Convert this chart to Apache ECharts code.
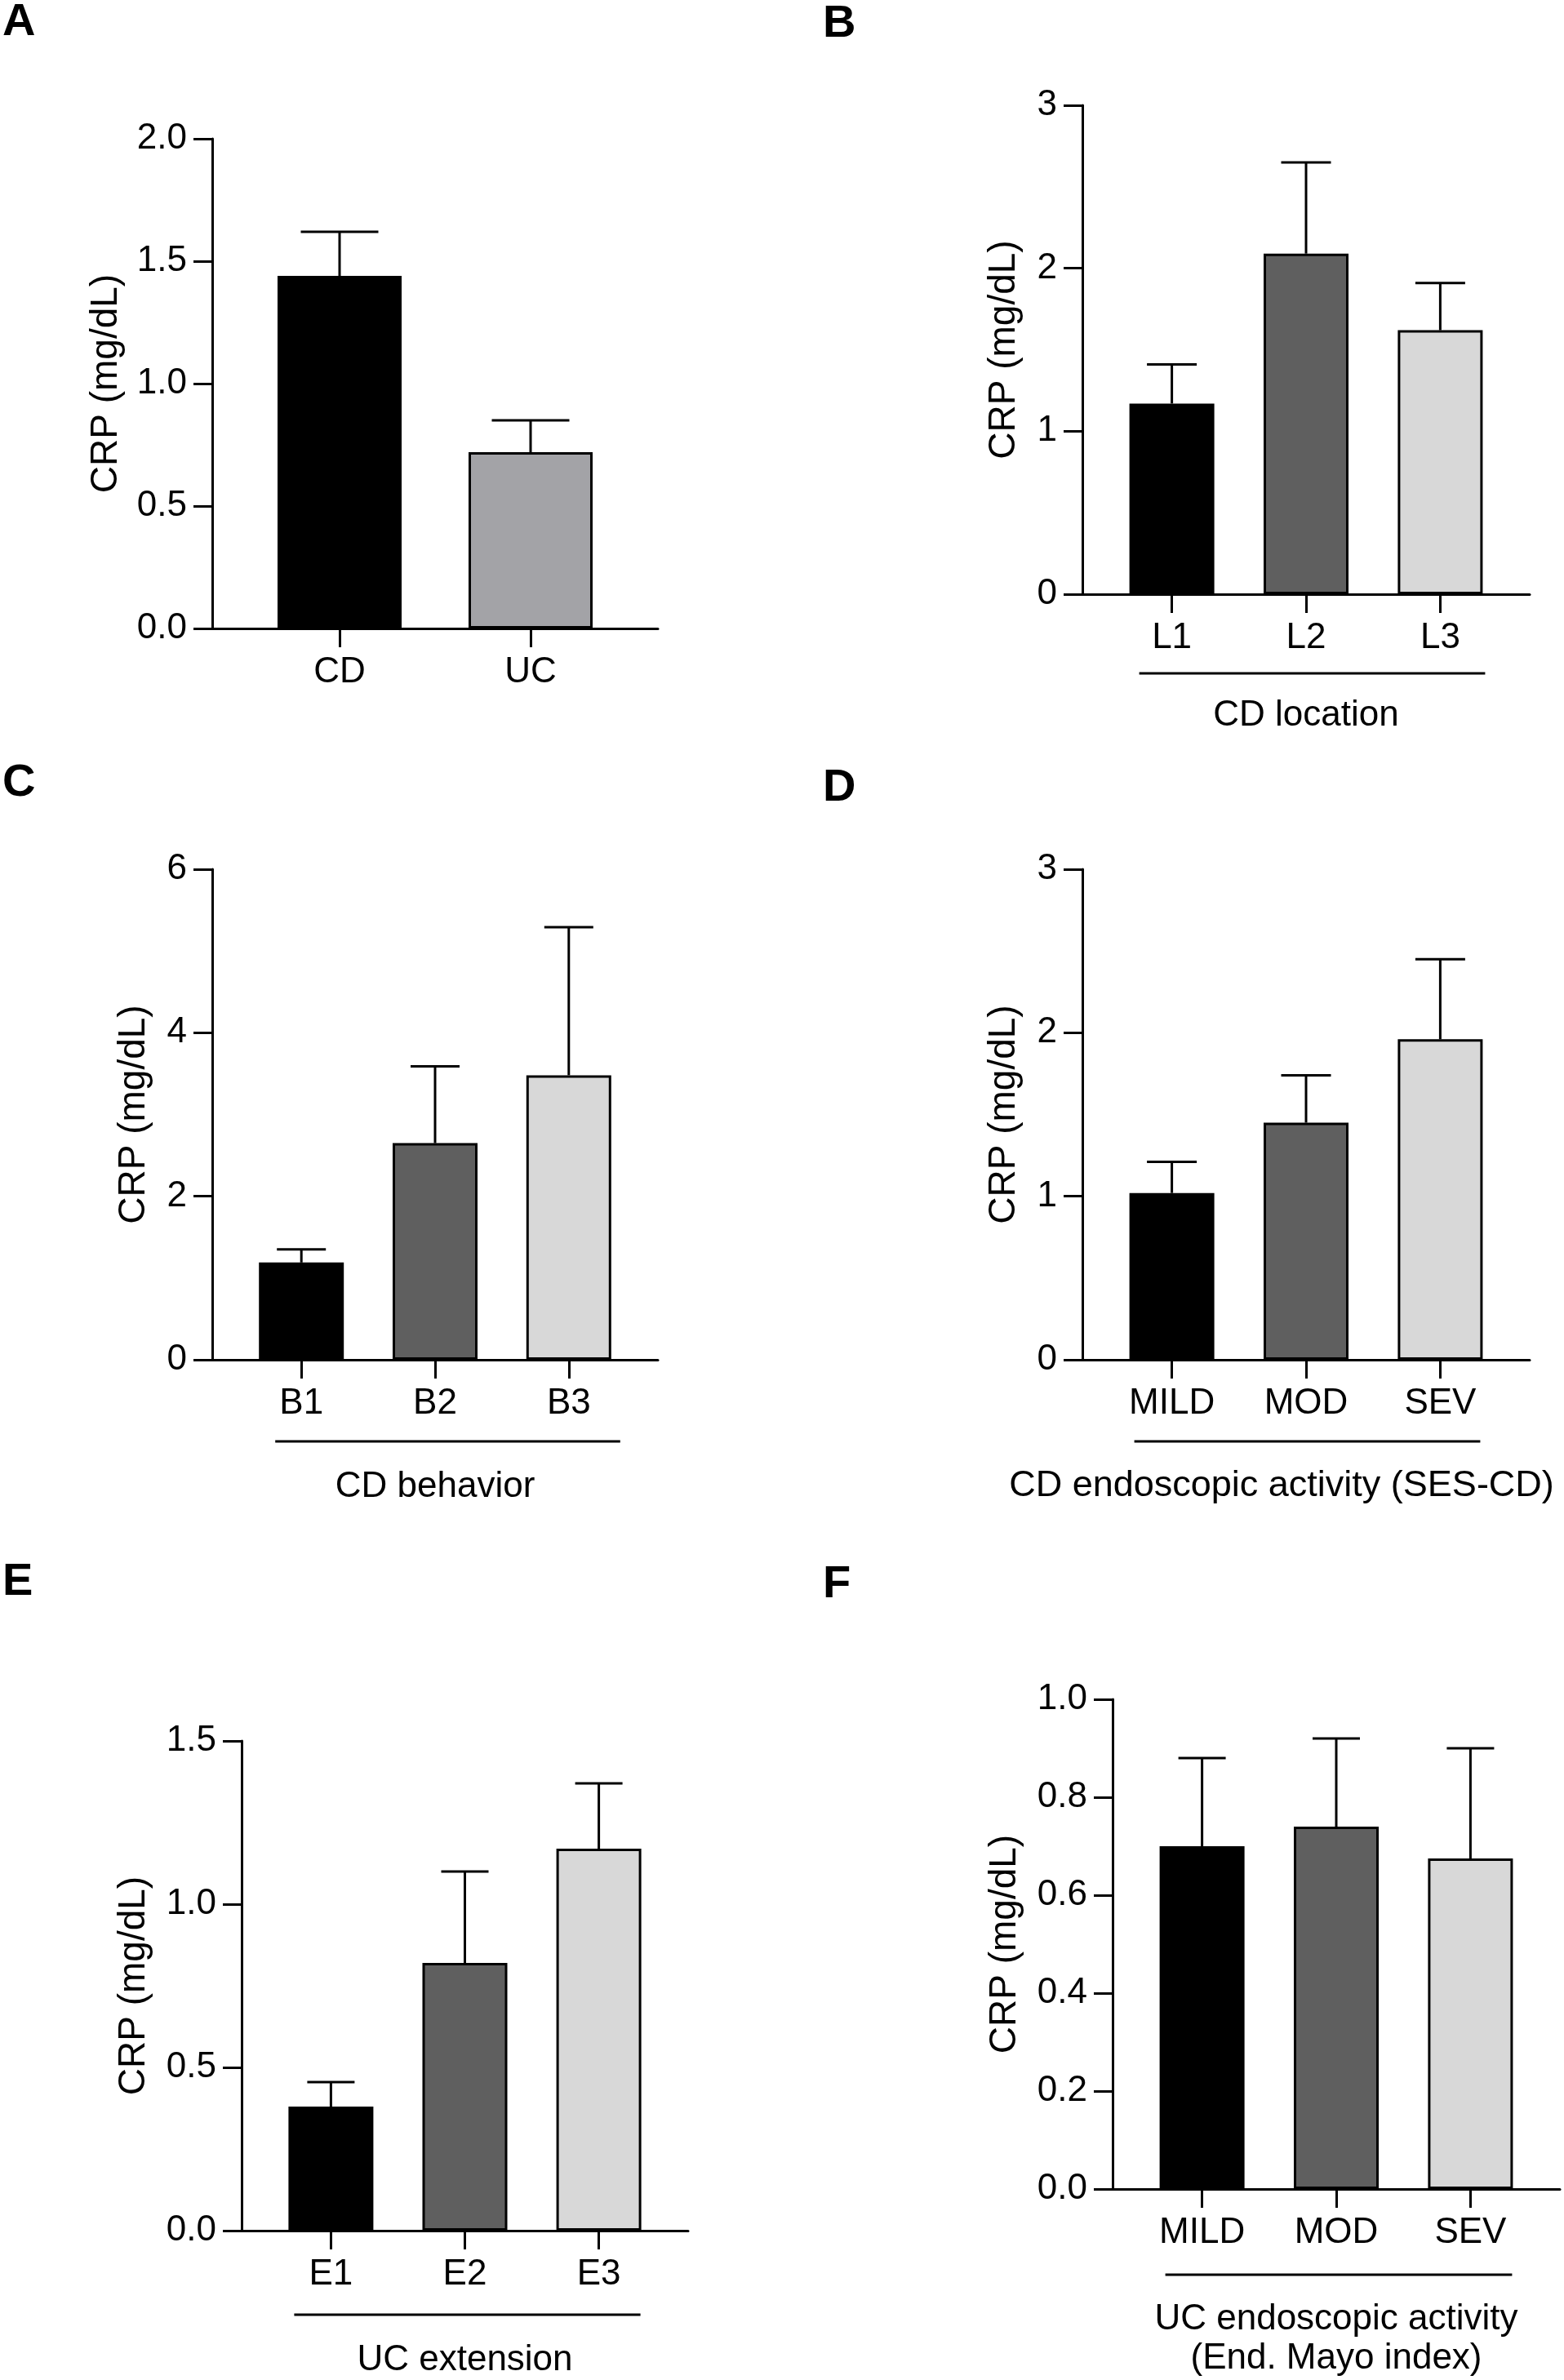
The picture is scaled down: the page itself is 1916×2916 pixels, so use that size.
<!DOCTYPE html>
<html>
<head>
<meta charset="utf-8">
<script src="https://cdn.jsdelivr.net/npm/echarts@6/dist/echarts.min.js"></script>
<style>
  html, body { margin: 0; padding: 0; background: #fff; }
  #main { width: 1916px; height: 2916px; }
</style>
</head>
<body>
<div id="main"></div>
<script>
// data (mean and SEM, CRP mg/dL)
var aCats = ['CD', 'UC'];
var aMean = [1.44, 0.72];
var aSem  = [0.18, 0.13];

var bCats = ['L1', 'L2', 'L3'];
var bMean = [1.17, 2.09, 1.62];
var bSem  = [0.24, 0.56, 0.29];

var cCats = ['B1', 'B2', 'B3'];
var cMean = [1.19, 2.65, 3.48];
var cSem  = [0.16, 0.94, 1.81];

var dCats = ['MILD', 'MOD', 'SEV'];
var dMean = [1.02, 1.45, 1.96];
var dSem  = [0.19, 0.29, 0.49];

var eCats = ['E1', 'E2', 'E3'];
var eMean = [0.38, 0.82, 1.17];
var eSem  = [0.075, 0.28, 0.20];

var fCats = ['MILD', 'MOD', 'SEV'];
var fMean = [0.70, 0.74, 0.675];
var fSem  = [0.18, 0.18, 0.225];

var yName = 'CRP (mg/dL)';
var font = '"Liberation Sans", Arial, Helvetica, sans-serif';
var grey3 = ['#000000', '#5f5f5f', '#d8d8d8'];

var panels = [
  {letter:'A', cats:aCats, mean:aMean, sem:aSem, fills:['#000000', '#a3a3a7'],
   grid:{left:260, top:170, width:546, height:600}, yMax:2, yStep:0.5, dec:1,
   bar:152, cap:95, yGap:107, title:'', tGap:0, letterPos:[3, 0]},
  {letter:'B', cats:bCats, mean:bMean, sem:bSem, fills:grey3,
   grid:{left:1326, top:129, width:548, height:599}, yMax:3, yStep:1, dec:0,
   bar:104, cap:61, yGap:73, title:'CD location', tGap:125, br:[-40, 55, 97], letterPos:[1008, 2]},
  {letter:'C', cats:cCats, mean:cMean, sem:cSem, fills:grey3,
   grid:{left:260, top:1065, width:546, height:601}, yMax:6, yStep:2, dec:0,
   bar:104, cap:60, yGap:73, title:'CD behavior', tGap:132, br:[-32, 63, 100], letterPos:[3, 932]},
  {letter:'D', cats:dCats, mean:dMean, sem:dSem, fills:grey3,
   grid:{left:1326, top:1065, width:548, height:601}, yMax:3, yStep:1, dec:0,
   bar:104, cap:61, yGap:73, title:'CD endoscopic activity (SES-CD)', tGap:131, tPad:[0, 60, 0, 0], tSize:45,
   br:[-46, 49, 100], letterPos:[1008, 938]},
  {letter:'E', cats:eCats, mean:eMean, sem:eSem, fills:grey3,
   grid:{left:296, top:2133, width:547, height:600}, yMax:1.5, yStep:0.5, dec:1,
   bar:104, cap:58, yGap:109, title:'UC extension', tGap:135, br:[-45, 51, 103], letterPos:[3, 1911]},
  {letter:'F', cats:fCats, mean:fMean, sem:fSem, fills:grey3,
   grid:{left:1363, top:2082, width:548, height:600}, yMax:1, yStep:0.2, dec:1,
   bar:104, cap:58, yGap:109, title:'UC endoscopic activity\n(End. Mayo index)', tGap:136, br:[-45, 51, 105],
   letterPos:[1008, 1914]}
];

var chart = echarts.init(document.getElementById('main'), null, {renderer: 'canvas'});

var grids = [], xAxes = [], yAxes = [], series = [], titles = [];

panels.forEach(function(p, k) {
  var n = p.cats.length;
  var idx = [];
  for (var i = 0; i < n; i++) idx.push(i);

  // keep the plot box fixed even if a label runs near the page edge
  grids.push({
    left: p.grid.left, top: p.grid.top, width: p.grid.width, height: p.grid.height,
    containLabel: false, outerBoundsMode: 'none'
  });
  titles.push({
    text: p.letter, left: p.letterPos[0], top: p.letterPos[1], padding: 0,
    textStyle: {fontFamily: font, fontSize: 56, fontWeight: 'bold', color: '#000'}
  });

  xAxes.push({
    gridIndex: k, type: 'value', min: -2 / 3, max: n - 1 + 2 / 3,
    name: p.title, nameLocation: 'middle', nameGap: p.tGap,
    nameTextStyle: {fontFamily: font, fontSize: p.tSize || 44, color: '#000', lineHeight: 48, padding: p.tPad || 0},
    splitLine: {show: false},
    axisLine: {onZero: false, lineStyle: {color: '#000', width: 3}},
    axisTick: {customValues: idx, length: 23, lineStyle: {color: '#000', width: 3}},
    axisLabel: {
      customValues: idx, margin: 32, fontFamily: font, fontSize: 44, color: '#000',
      formatter: function(v) { return p.cats[Math.round(v)]; }
    }
  });

  yAxes.push({
    gridIndex: k, type: 'value', min: 0, max: p.yMax, interval: p.yStep,
    name: yName, nameLocation: 'middle', nameGap: p.yGap,
    nameTextStyle: {fontFamily: font, fontSize: 46, color: '#000'},
    splitLine: {show: false},
    axisLine: {show: true, onZero: false, lineStyle: {color: '#000', width: 3}},
    axisTick: {show: true, length: 23, lineStyle: {color: '#000', width: 3}},
    axisLabel: {
      margin: 31, fontFamily: font, fontSize: 44, color: '#000',
      formatter: function(v) { return v.toFixed(p.dec); }
    }
  });

  // bars
  series.push({
    type: 'bar', xAxisIndex: k, yAxisIndex: k, barWidth: p.bar, z: 2,
    data: p.mean.map(function(m, i) {
      return {value: [i, m], itemStyle: {color: p.fills[i], borderColor: '#000', borderWidth: 3}};
    })
  });

  // error bars (mean + SEM only, with cap)
  series.push({
    type: 'custom', xAxisIndex: k, yAxisIndex: k, z: 3, clip: false,
    encode: {x: 0, y: [1, 2]},
    data: p.mean.map(function(m, i) { return [i, m, m + p.sem[i]]; }),
    renderItem: function(params, api) {
      var lo = api.coord([api.value(0), api.value(1)]);
      var hi = api.coord([api.value(0), api.value(2)]);
      var st = {stroke: '#000', lineWidth: 3};
      return {type: 'group', children: [
        {type: 'line', shape: {x1: lo[0], y1: lo[1], x2: hi[0], y2: hi[1]}, style: st},
        {type: 'line', shape: {x1: hi[0] - p.cap / 2, y1: hi[1], x2: hi[0] + p.cap / 2, y2: hi[1]}, style: st}
      ]};
    }
  });

  // bracket line under the group labels
  if (p.br) {
    series.push({
      type: 'custom', xAxisIndex: k, yAxisIndex: k, clip: false, silent: true,
      encode: {x: [0, 1], y: 2},
      data: [[0, n - 1, 0]],
      renderItem: function(params, api) {
        var a = api.coord([api.value(0), api.value(2)]);
        var b = api.coord([api.value(1), api.value(2)]);
        return {type: 'line',
          shape: {x1: a[0] + p.br[0], y1: a[1] + p.br[2], x2: b[0] + p.br[1], y2: b[1] + p.br[2]},
          style: {stroke: '#000', lineWidth: 3}};
      }
    });
  }
});

var option = {
  backgroundColor: '#fff',
  animation: false,
  title: titles,
  grid: grids,
  xAxis: xAxes,
  yAxis: yAxes,
  series: series
};
chart.setOption(option);
window.onresize = chart.resize;
</script>
</body>
</html>
